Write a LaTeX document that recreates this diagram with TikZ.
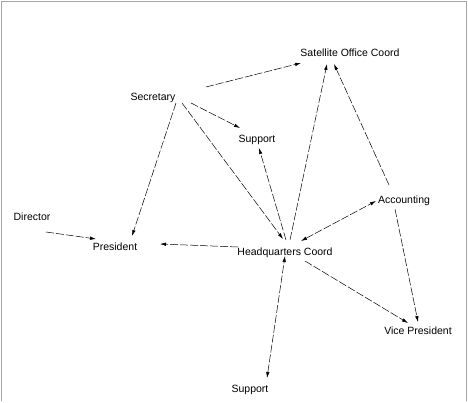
\documentclass[tikz,border=0pt]{standalone}
\usepackage{fontspec}
\setmainfont{Liberation Sans}
\usetikzlibrary{arrows.meta}
\begin{document}
\begin{tikzpicture}[x=1pt,y=-1pt,
  lbl/.style={anchor=base,inner sep=0pt,font=\fontsize{10.5}{12}\selectfont},
  edge/.style={line width=0.5pt,dash pattern=on 8pt off 2pt},
  arr/.style={edge,-{Latex[length=6pt,width=3.5pt]}},
  darr/.style={edge,{Latex[length=6pt,width=3.5pt]}-{Latex[length=6pt,width=3.5pt]}}]
\useasboundingbox (0,0) rectangle (468,403);
\draw[gray!70,line width=0.8pt] (1,401) -- (1,1) -- (466,1) -- (466,401);
% nodes
\node[lbl] (sat) at (350,57) {Satellite Office Coord};
\node[lbl] (sec) at (153,101) {Secretary};
\node[lbl] (sup1) at (257,143) {Support};
\node[lbl] (acc) at (404,204) {Accounting};
\node[lbl] (dir) at (32,221) {Director};
\node[lbl] (pres) at (115,251) {President};
\node[lbl] (hq) at (285,255) {Headquarters Coord};
\node[lbl] (vp) at (418,334) {Vice President};
\node[lbl] (sup2) at (250,392) {Support};
% edges
\draw[arr] ([shift={(53,-14)}]sec.base) -- ([shift={(-49,6)}]sat.base);
\draw[arr] ([shift={(38,2)}]sec.base) -- ([shift={(-17,-15)}]sup1.base);
\draw[arr] ([shift={(23,2)}]sec.base) -- ([shift={(17,-15)}]pres.base);
\draw[arr] ([shift={(29,2)}]sec.base) -- ([shift={(-2,-16)}]hq.base);
\draw[arr] ([shift={(1,-15)}]hq.base) -- ([shift={(2,5)}]sup1.base);
\draw[arr] ([shift={(5,-15)}]hq.base) -- ([shift={(-23,7)}]sat.base);
\draw[arr] ([shift={(-15,-19)}]acc.base) -- ([shift={(-16,7)}]sat.base);
\draw[darr] ([shift={(16,-14)}]hq.base) -- ([shift={(-28,-3)}]acc.base);
\draw[arr] ([shift={(14,11)}]dir.base) -- ([shift={(-19,-12)}]pres.base);
\draw[arr] ([shift={(-47,-8)}]hq.base) -- ([shift={(45,-7)}]pres.base);
\draw[arr] ([shift={(20,6)}]hq.base) -- ([shift={(-10,-11)}]vp.base);
\draw[arr] ([shift={(-9,5)}]acc.base) -- ([shift={(0,-12)}]vp.base);
\draw[darr] ([shift={(17,-14)}]sup2.base) -- ([shift={(0,1)}]hq.base);
\end{tikzpicture}
\end{document}
